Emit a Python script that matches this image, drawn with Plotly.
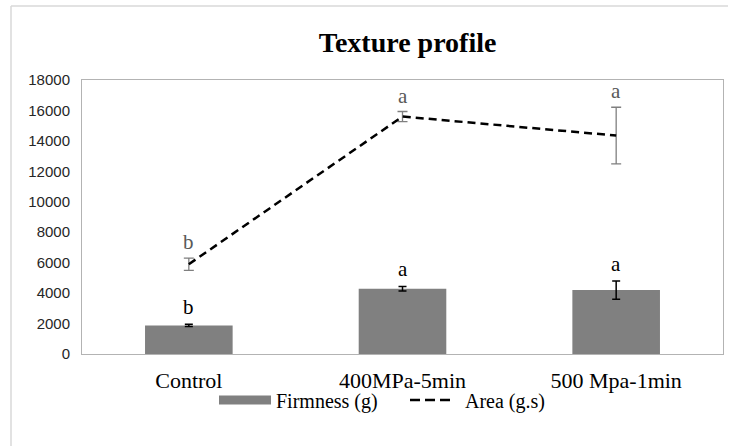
import plotly.graph_objects as go

categories = ["Control", "400MPa-5min", "500 Mpa-1min"]
firmness = [1880, 4290, 4200]
firmness_err = [80, 150, 600]
area = [5900, 15600, 14350]
area_err = [400, 330, 1860]
firmness_letters = ["b", "a", "a"]
area_letters = ["b", "a", "a"]
y_ticks = [0, 2000, 4000, 6000, 8000, 10000, 12000, 14000, 16000, 18000]

SERIF = "Liberation Serif, Times New Roman, serif"
SANS = "Liberation Sans, Arial, sans-serif"

fig = go.Figure()
fig.add_trace(go.Bar(
    x=categories, y=firmness, name="Firmness (g)", showlegend=False,
    marker=dict(color="#808080", line=dict(width=0)),
    width=0.41,
    error_y=dict(type="data", array=firmness_err, visible=True,
                 color="#000000", thickness=1.5, width=4),
))
fig.add_trace(go.Scatter(
    x=categories, y=area, name="Area (g.s)", mode="lines", showlegend=False,
    line=dict(color="#000000", width=2.5, dash="8px,5px"),
    error_y=dict(type="data", array=area_err, visible=True,
                 color="#7f7f7f", thickness=1.3, width=5),
))
# legend-only entries, styled like the reference legend keys
fig.add_trace(go.Scatter(
    x=[None], y=[None], name="Firmness (g)", mode="lines", legend="legend",
    line=dict(color="#808080", width=9),
))
fig.add_trace(go.Scatter(
    x=[None], y=[None], name="Area (g.s)", mode="lines", legend="legend2",
    line=dict(color="#000000", width=2.5, dash="10px,5px,10px,5px,10px,10px"),
))

annotations = []
for c, v, e, t in zip(categories, firmness, firmness_err, firmness_letters):
    annotations.append(dict(x=c, y=v + e, text=t, showarrow=False, yanchor="bottom",
                            yshift=3, font=dict(family=SERIF, size=21, color="#000000")))
for c, v, e, t in zip(categories, area, area_err, area_letters):
    annotations.append(dict(x=c, y=v + e, text=t, showarrow=False, yanchor="bottom",
                            yshift=2, font=dict(family=SERIF, size=21, color="#595959")))
fig.update_layout(annotations=annotations)

leg_common = dict(orientation="h", yanchor="middle", y=-0.168, xanchor="left",
                  font=dict(family=SERIF, size=20, color="#000000"),
                  bgcolor="rgba(0,0,0,0)", borderwidth=0)

fig.update_layout(
    width=733, height=446,
    margin=dict(l=82, r=10, t=80, b=92, autoexpand=False),
    paper_bgcolor="white", plot_bgcolor="white",
    title=dict(text="<b>Texture profile</b>", x=0.508, xref="paper", xanchor="center",
               y=1 - 42 / 446, yref="container", yanchor="middle",
               font=dict(family=SERIF, size=28, color="#000000")),
    showlegend=True,
    legend=dict(x=(214 - 82) / 641, itemwidth=52, **leg_common),
    legend2=dict(x=(405 - 82) / 641, itemwidth=50, **leg_common),
)
fig.update_xaxes(
    showline=True, linecolor="#b3b3b3", linewidth=1, mirror=True,
    showgrid=False, ticks="", ticklabelstandoff=7,
    tickfont=dict(family=SERIF, size=22, color="#000000"),
)
fig.update_yaxes(
    range=[0, 18000], tickvals=y_ticks, ticktext=[str(v) for v in y_ticks],
    showline=True, linecolor="#b3b3b3", linewidth=1, mirror=True,
    showgrid=False, zeroline=False, ticks="", ticklabelstandoff=8,
    tickfont=dict(family=SANS, size=15, color="#262626"),
)

# outer chart frame (top and left edges visible)
fig.add_shape(type="line", xref="paper", yref="paper",
              x0=(11 - 82) / 641, x1=(728 - 82) / 641, y0=(354 - 6) / 274, y1=(354 - 6) / 274,
              line=dict(color="#d9d9d9", width=1.5))
fig.add_shape(type="line", xref="paper", yref="paper",
              x0=(11 - 82) / 641, x1=(11 - 82) / 641, y0=(354 - 6) / 274, y1=(354 - 446) / 274,
              line=dict(color="#d9d9d9", width=1.5))

fig.write_html("out.html", config={"displayModeBar": False},
               post_script="document.body.style.margin='0';document.body.style.overflow='hidden';")
